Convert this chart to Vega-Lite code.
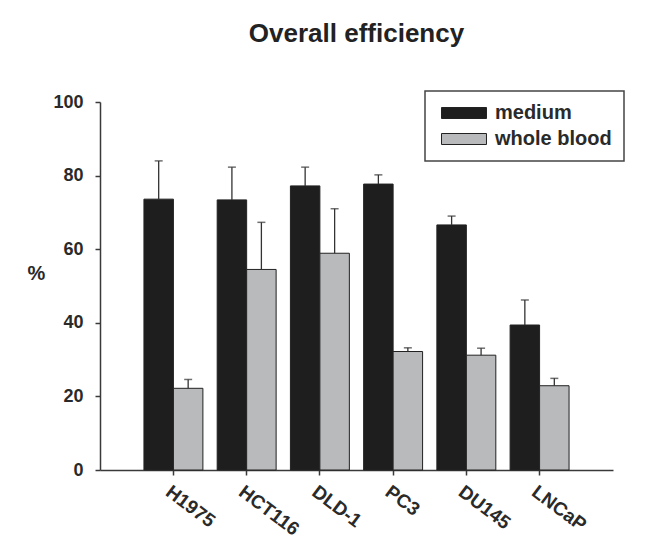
{
  "$schema": "https://vega.github.io/schema/vega-lite/v6.json",
  "width": 513,
  "height": 368,
  "autosize": "none",
  "padding": {"left": 100, "top": 102, "right": 34, "bottom": 84},
  "background": "white",
  "title": {
    "text": "Overall efficiency",
    "font": "Liberation Sans",
    "fontSize": 26,
    "fontWeight": "bold",
    "color": "#222222",
    "anchor": "middle",
    "frame": "group",
    "baseline": "alphabetic",
    "offset": 22
  },
  "config": {
    "view": {"stroke": null},
    "axis": {
      "labelFont": "Liberation Sans",
      "labelFontWeight": "bold",
      "labelColor": "#2a2a2a",
      "titleFont": "Liberation Sans",
      "domainColor": "#3a3a3a",
      "domainWidth": 1.5,
      "tickColor": "#3a3a3a",
      "tickWidth": 1.5,
      "tickSize": 5,
      "grid": false
    }
  },
  "data": {
    "values": [
      {"cell": "H1975", "group": "medium", "value": 73.6, "upper": 84.0},
      {"cell": "H1975", "group": "whole blood", "value": 22.2, "upper": 24.6},
      {"cell": "HCT116", "group": "medium", "value": 73.4, "upper": 82.3},
      {"cell": "HCT116", "group": "whole blood", "value": 54.5, "upper": 67.3},
      {"cell": "DLD-1", "group": "medium", "value": 77.2, "upper": 82.3},
      {"cell": "DLD-1", "group": "whole blood", "value": 58.9, "upper": 71.0},
      {"cell": "PC3", "group": "medium", "value": 77.7, "upper": 80.2},
      {"cell": "PC3", "group": "whole blood", "value": 32.2, "upper": 33.2},
      {"cell": "DU145", "group": "medium", "value": 66.6, "upper": 69.0},
      {"cell": "DU145", "group": "whole blood", "value": 31.2, "upper": 33.1},
      {"cell": "LNCaP", "group": "medium", "value": 39.4, "upper": 46.2},
      {"cell": "LNCaP", "group": "whole blood", "value": 22.9, "upper": 24.9}
    ]
  },
  "encoding": {
    "x": {
      "field": "cell",
      "type": "nominal",
      "sort": ["H1975", "HCT116", "DLD-1", "PC3", "DU145", "LNCaP"],
      "scale": {"paddingInner": 0.195, "paddingOuter": 0.6},
      "axis": {
        "title": null,
        "labelAngle": 37,
        "labelAlign": "left",
        "labelBaseline": "top",
        "labelFontSize": 19,
        "labelPadding": 7
      }
    },
    "xOffset": {
      "field": "group",
      "sort": ["medium", "whole blood"],
      "scale": {"paddingInner": 0, "paddingOuter": 0}
    }
  },
  "layer": [
    {
      "mark": {"type": "bar", "stroke": "#222222", "strokeWidth": 1},
      "encoding": {
        "y": {
          "field": "value",
          "type": "quantitative",
          "scale": {"domain": [0, 100], "nice": false},
          "axis": {
            "values": [0, 20, 40, 60, 80, 100],
            "labelFontSize": 18,
            "labelPadding": 12,
            "title": "%",
            "titleFontSize": 20,
            "titleFontWeight": "bold",
            "titleColor": "#2a2a2a",
            "titleAngle": 0,
            "titleAlign": "center",
            "titleBaseline": "middle",
            "titleX": -64,
            "titleY": 171
          }
        },
        "fill": {
          "field": "group",
          "type": "nominal",
          "scale": {"domain": ["medium", "whole blood"], "range": ["#1e1e1e", "#b9babc"]},
          "legend": {
            "title": null,
            "orient": "none",
            "legendX": 325,
            "legendY": -11,
            "direction": "vertical",
            "strokeColor": "#444444",
            "padding": 12,
            "symbolType": "M-1,-1H7.18V1H-1Z",
            "symbolSize": 121,
            "symbolStrokeColor": "#222222",
            "symbolStrokeWidth": 1,
            "symbolOpacity": 1,
            "labelFont": "Liberation Sans",
            "labelFontSize": 20,
            "labelFontWeight": "bold",
            "labelColor": "#2a2a2a",
            "labelOffset": 38,
            "rowPadding": 6,
            "encode": {"legend": {"update": {"strokeWidth": {"value": 1.5}}}}
          }
        }
      }
    },
    {
      "mark": {"type": "rule", "color": "#333333", "strokeWidth": 1.3},
      "encoding": {
        "y": {"field": "value", "type": "quantitative"},
        "y2": {"field": "upper"}
      }
    },
    {
      "mark": {"type": "tick", "color": "#333333", "thickness": 1.5, "size": 8, "orient": "horizontal"},
      "encoding": {
        "y": {"field": "upper", "type": "quantitative"}
      }
    }
  ]
}
